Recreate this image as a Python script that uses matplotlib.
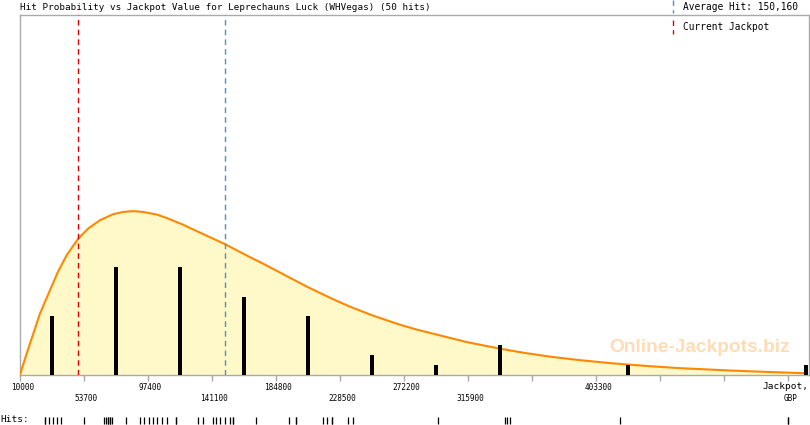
import numpy as np
import matplotlib.pyplot as plt
from matplotlib.lines import Line2D
from matplotlib.transforms import blended_transform_factory

# Histogram of the 50 hits (bin width 43700 GBP, bars at bin centres)
bar_x = [31850, 75550, 119250, 162950, 206650, 250350, 294050, 337750, 425150, 546700]
bar_counts = [6, 11, 11, 8, 6, 2, 1, 3, 1, 1]

# Fitted probability curve (scaled to hit counts)
curve_x = [10000, 14575, 23656, 30484, 35946, 41887, 49807, 56635, 64624, 73705,
           80533, 87156, 93984, 103544, 110372, 121296, 132904, 149974, 167044, 178652,
           189576, 206646, 223716, 235324, 251028, 269464, 281072, 294728, 315212, 337744,
           353448, 371884, 392368, 414900, 440164, 460648, 494788, 515272, 540536, 547364]
curve_y = [0.0, 2.16, 6.26, 8.66, 10.55, 12.25, 13.96, 14.99, 15.84, 16.46,
           16.69, 16.77, 16.69, 16.41, 16.05, 15.38, 14.56, 13.38, 12.04, 11.17,
           10.30, 8.96, 7.73, 6.96, 6.04, 5.11, 4.60, 4.09, 3.32, 2.65,
           2.24, 1.83, 1.47, 1.14, 0.85, 0.65, 0.41, 0.29, 0.16, 0.13]

# Individual hit values (rug)
hits = [27070, 27070, 29800, 32530, 35260, 38000, 53500, 67360, 68720, 70090,
        70090, 71450, 71450, 72820, 82380, 91940, 94670, 97800, 100810, 103540,
        106960, 110370, 116520, 116520, 131540, 134950, 141500, 143830, 146560, 149970,
        153390, 155440, 155440, 171140, 193670, 198450, 198450, 216890, 219620, 223030,
        223030, 233960, 237370, 295410, 341160, 342520, 344570, 419680, 534380, 534380]

current_jackpot = 49600
average_hit = 150160

tick_vals = [10000 + 43700 * k for k in range(13)]
row1 = {0: '10000', 2: '97400', 4: '184800', 6: '272200', 9: '403300'}
row2 = {1: '53700', 3: '141100', 5: '228500', 7: '315900'}

W, H = 810, 425
fig = plt.figure(figsize=(W / 100, H / 100), dpi=100)
ax = fig.add_axes([20 / W, (H - 374.5) / H, 789 / W, 359.5 / H])

ax.fill_between(curve_x, curve_y, 0, color='#fff8c8', lw=0, zorder=1)
ax.plot(curve_x, curve_y, color='#ff8800', lw=1.5, zorder=3)
ax.bar(bar_x, bar_counts, width=2700, color='black', zorder=4)
ax.axvline(current_jackpot, color='#dd0000', lw=1, dashes=(4, 3), zorder=5)
ax.axvline(average_hit, color='#4496c6', lw=1, dashes=(4, 3), zorder=5)

ax.set_xlim(10000, 548730)
ax.set_ylim(0, 36.9)
ax.set_yticks([])
ax.set_xticks(tick_vals)
ax.set_xticklabels([])
ax.tick_params(axis='x', length=4, color='#aaaaaa', width=1)
for s in ax.spines.values():
    s.set_color('#aaaaaa')
    s.set_linewidth(1)

mono = 'DejaVu Sans Mono'
tr = blended_transform_factory(ax.transData, ax.transAxes)
shift = 1600
for k, lab in row1.items():
    ax.text(tick_vals[k] + shift, -0.025, lab, transform=tr, ha='center', va='top',
            fontsize=5.6, family=mono)
for k, lab in row2.items():
    ax.text(tick_vals[k] + shift, -0.055, lab, transform=tr, ha='center', va='top',
            fontsize=5.6, family=mono)
ax.text(548600, -0.022, 'Jackpot,', transform=tr, ha='right', va='top',
        fontsize=6.8, family=mono)
ax.text(tick_vals[12] + 2000, -0.055, 'GBP', transform=tr, ha='center', va='top',
        fontsize=5.6, family=mono)

# rug of hits
ax.vlines(hits, -0.1195, -0.1377, transform=tr, color='black', lw=0.9, clip_on=False)
fig.text(0 / W, 1 - 420 / H, 'Hits:', fontsize=6.8, family=mono, va='center', ha='left')

# watermark
fig.text(700 / W, 1 - 347.5 / H, 'Online-Jackpots.biz', color='#ffdcb4', fontsize=13.8,
         fontweight='bold', family='Liberation Sans', ha='center', va='center', zorder=6)

# header
fig.text(20 / W, 1 - 7.5 / H, 'Hit Probability vs Jackpot Value for Leprechauns Luck (WHVegas) (50 hits)',
         fontsize=6.7, family=mono, va='center', ha='left')
fig.text(683 / W, 1 - 7.5 / H, 'Average Hit: 150,160', fontsize=6.85, family=mono,
         va='center', ha='left')
fig.text(683 / W, 1 - 27.5 / H, 'Current Jackpot', fontsize=6.85, family=mono,
         va='center', ha='left')
fig.add_artist(Line2D([673 / W, 673 / W], [1 - 0 / H, 1 - 13 / H], color='#4496c6',
                      lw=1, dashes=(4, 3), transform=fig.transFigure))
fig.add_artist(Line2D([673 / W, 673 / W], [1 - 20 / H, 1 - 34 / H], color='#dd0000',
                      lw=1, dashes=(4, 3), transform=fig.transFigure))

fig.savefig('out.png', dpi=100)
